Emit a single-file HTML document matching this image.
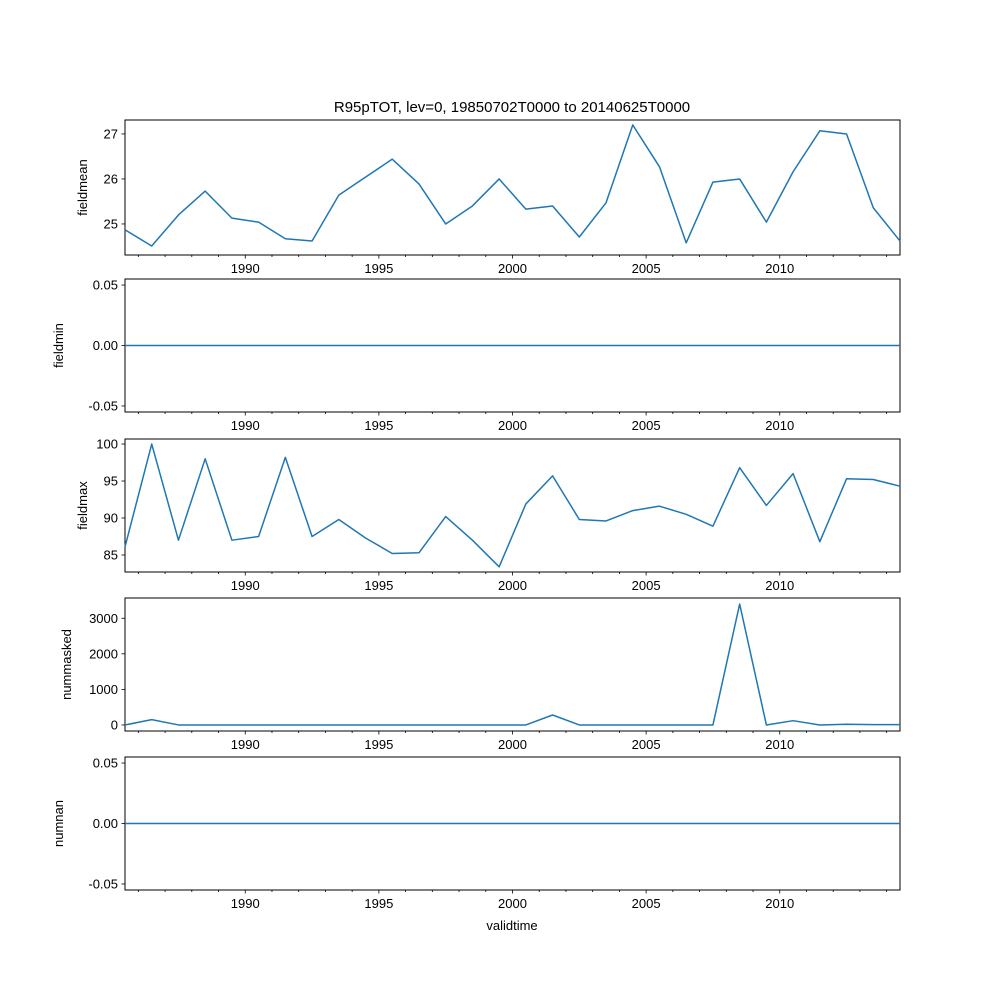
<!DOCTYPE html>
<html><head><meta charset="utf-8"><style>
body{margin:0;background:#fff}
svg text{font-family:"Liberation Sans","DejaVu Sans",sans-serif;font-size:13px;fill:#000}
</style></head><body>
<svg id="chart" width="1000" height="1000" xmlns="http://www.w3.org/2000/svg">
<text x="512" y="112" text-anchor="middle" font-size="15" style="font-size:15px">R95pTOT, lev=0, 19850702T0000 to 20140625T0000</text>
<text x="512" y="930" text-anchor="middle">validtime</text>
</svg>
<script>
const years = [];
for (let y = 1985; y <= 2014; y++) years.push(y);
const fieldmean = [24.87,24.51,25.2,25.73,25.13,25.04,24.67,24.62,25.64,26.04,26.44,25.89,25.0,25.4,26.0,25.33,25.4,24.71,25.47,27.2,26.27,24.58,25.93,26.0,25.04,26.16,27.07,27.0,25.36,24.62];
const fieldmin = years.map(() => 0);
const fieldmax = [86.1,100,87.0,98.0,87.0,87.5,98.2,87.5,89.8,87.3,85.2,85.3,90.2,87.0,83.4,91.9,95.7,89.8,89.6,91.0,91.6,90.5,88.9,96.8,91.7,96.0,86.8,95.3,95.2,94.3];
const nummasked = [0,150,0,0,0,0,0,0,0,0,0,0,0,0,0,0,280,0,0,0,0,0,0,3400,0,120,0,20,10,10];
const numnan = years.map(() => 0);
const xTickLabels = [1990,1995,2000,2005,2010];
const panels = [
 {name:'fieldmean', data:fieldmean, top:120, bot:255, ymin:24.31, ymax:27.31, ticks:[25,26,27], fmt:v=>String(v)},
 {name:'fieldmin', data:fieldmin, top:279, bot:412, ymin:-0.055, ymax:0.055, ticks:[-0.05,0,0.05], fmt:v=>v.toFixed(2)},
 {name:'fieldmax', data:fieldmax, top:439, bot:572, ymin:82.7, ymax:100.68, ticks:[85,90,95,100], fmt:v=>String(v)},
 {name:'nummasked', data:nummasked, top:598, bot:731, ymin:-170, ymax:3570, ticks:[0,1000,2000,3000], fmt:v=>String(v)},
 {name:'numnan', data:numnan, top:757, bot:890, ymin:-0.055, ymax:0.055, ticks:[-0.05,0,0.05], fmt:v=>v.toFixed(2)}
];
const L=125,R=900, t0=1985.5, t1=2014.5;
const xs = t => L + (t - t0)/(t1 - t0)*(R-L);
const svg = document.getElementById('chart');
const NS='http://www.w3.org/2000/svg';
function mk(tag, attrs){const e=document.createElementNS(NS,tag);for(const k in attrs)e.setAttribute(k,attrs[k]);svg.appendChild(e);return e;}
panels.forEach(p=>{
 const ys = v => p.bot - (v - p.ymin)/(p.ymax - p.ymin)*(p.bot-p.top);
 const frame = mk('rect',{x:L,y:p.top,width:R-L,height:p.bot-p.top,fill:'none',stroke:'#000','stroke-width':1});
 
 
 for(let y=1986;y<=2014;y++){
  const x=xs(y);
  const major = y%5===0;
  const tk=mk('line',{x1:x,x2:x,y1:p.bot,y2:p.bot+(major?3.5:2),stroke:'#000','stroke-width':0.8});
  
  
 }
 xTickLabels.forEach(y=>{
  const t=mk('text',{x:xs(y),y:p.bot+18,'text-anchor':'middle'});
  t.textContent=y;
  
  
 });
 p.ticks.forEach(v=>{
  const y=ys(v);
  const tk=mk('line',{x1:L-3.5,x2:L,y1:y,y2:y,stroke:'#000','stroke-width':0.8});
  
  
  const t=mk('text',{x:L-7,y:y+4.5,'text-anchor':'end'});
  t.textContent=p.fmt(v);
  
  
 });
 const cy=(p.top+p.bot)/2;
 const yl=mk('text',{x:0,y:0,'text-anchor':'middle',transform:`translate(${p.name==='fieldmin'||p.name==='numnan'?63:p.name==='nummasked'?71:87},${cy}) rotate(-90)`});
 yl.textContent=p.name;
 
 
 const pts=p.data.map((v,i)=>xs(years[i]+0.5).toFixed(2)+','+ys(v).toFixed(2)).join(' ');
 const line=mk('polyline',{points:pts,fill:'none',stroke:'#1f77b4','stroke-width':1.5,'stroke-linejoin':'round'});
 
 
});
</script>
</body></html>
